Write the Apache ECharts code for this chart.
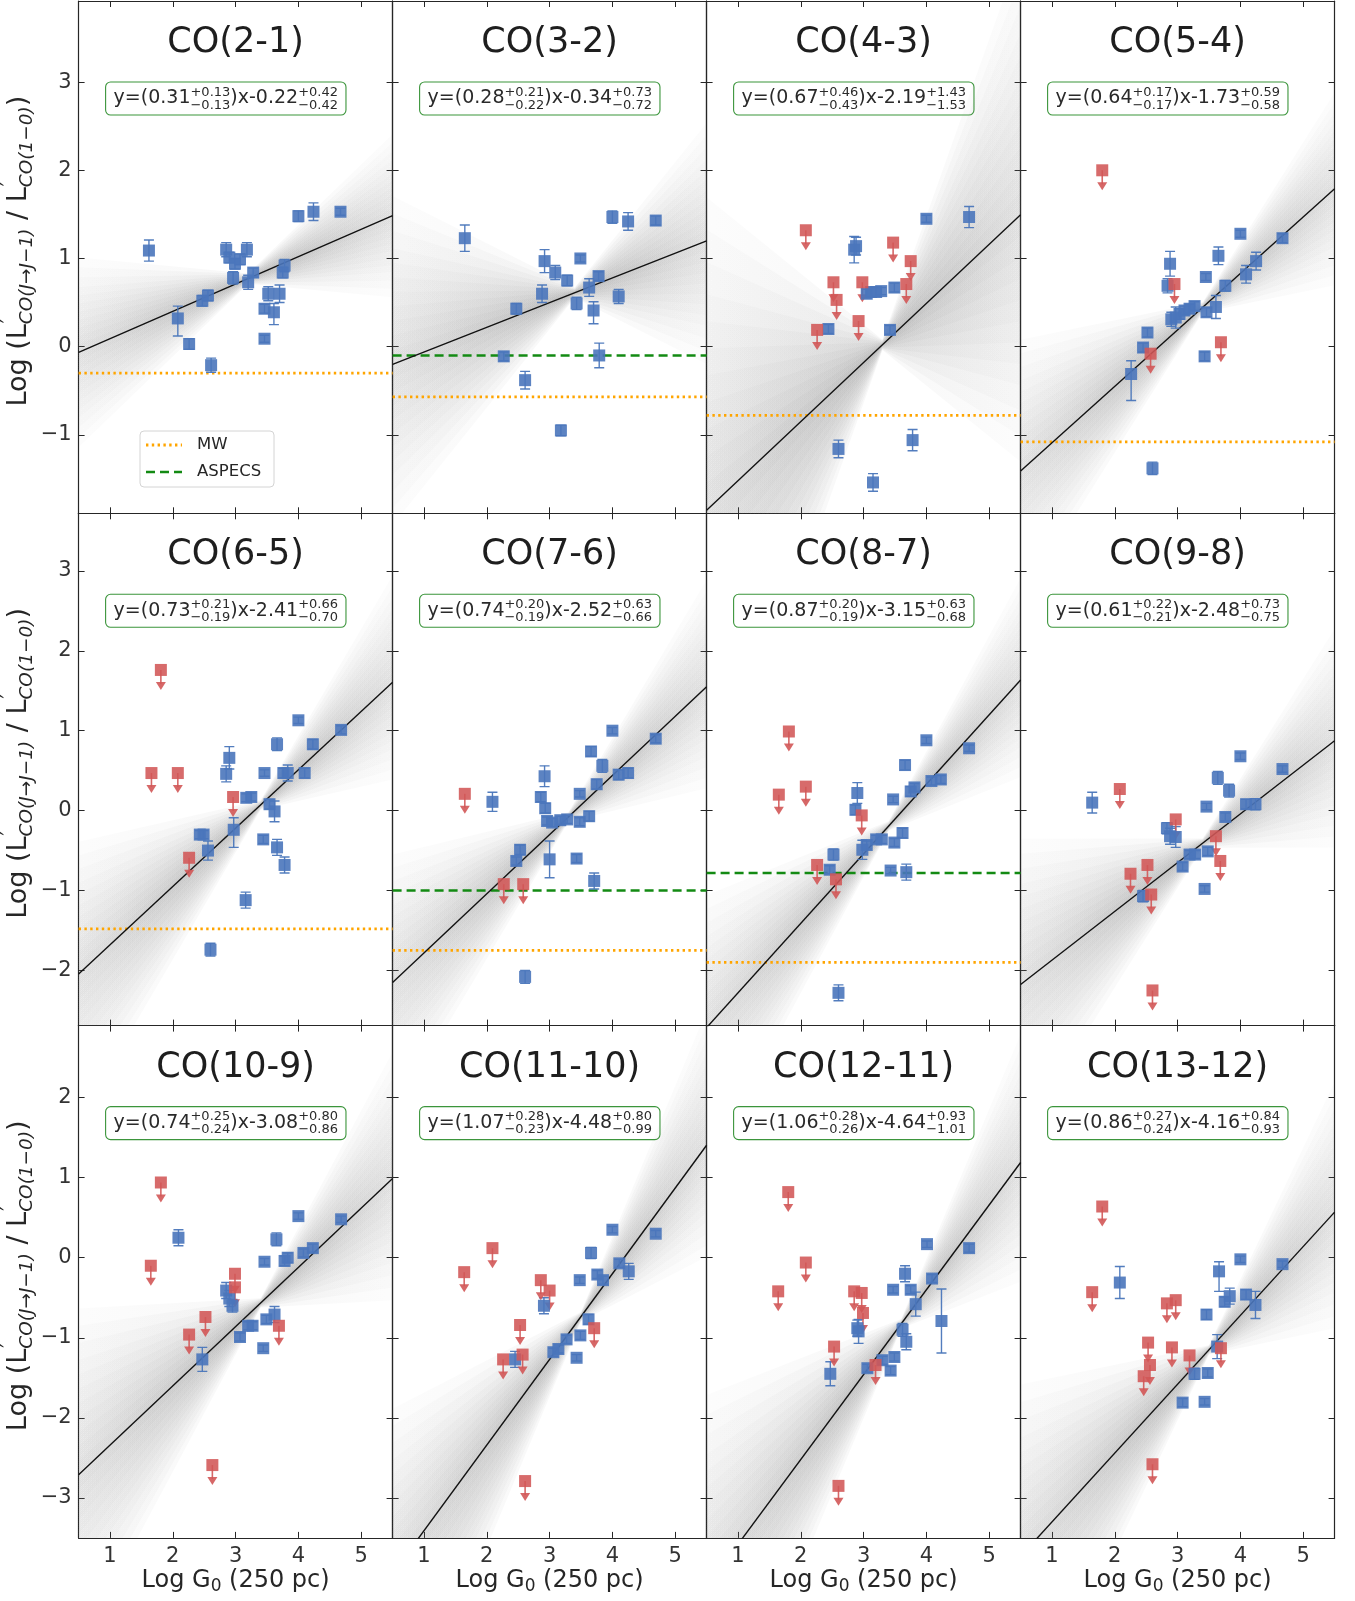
<!DOCTYPE html>
<html>
<head>
<meta charset="utf-8">
<script src="https://cdn.jsdelivr.net/npm/echarts@6/dist/echarts.min.js"></script>
<style>
  html, body { margin: 0; padding: 0; background: #ffffff; }
  #chart { width: 1355px; height: 1601px; }
</style>
</head>
<body>
<div id="chart"></div>
<script>
// ---------------------------------------------------------------------------
// CO line ratios versus the local FUV field G0, one panel per transition.
// ---------------------------------------------------------------------------
const transitions = ['CO(2-1)', 'CO(3-2)', 'CO(4-3)', 'CO(5-4)', 'CO(6-5)', 'CO(7-6)',
                     'CO(8-7)', 'CO(9-8)', 'CO(10-9)', 'CO(11-10)', 'CO(12-11)', 'CO(13-12)'];

// Best-fit relation y = slope * x + intercept with asymmetric uncertainties
const slope          = [0.31, 0.28, 0.67, 0.64, 0.73, 0.74, 0.87, 0.61, 0.74, 1.07, 1.06, 0.86];
const slopeErrUp     = [0.13, 0.21, 0.46, 0.17, 0.21, 0.20, 0.20, 0.22, 0.25, 0.28, 0.28, 0.27];
const slopeErrDn     = [0.13, 0.22, 0.43, 0.17, 0.19, 0.19, 0.19, 0.21, 0.24, 0.23, 0.26, 0.24];
const intercept      = [-0.22, -0.34, -2.19, -1.73, -2.41, -2.52, -3.15, -2.48, -3.08, -4.48, -4.64, -4.16];
const interceptErrUp = [0.42, 0.73, 1.43, 0.59, 0.66, 0.63, 0.63, 0.73, 0.80, 0.80, 0.93, 0.84];
const interceptErrDn = [0.42, 0.72, 1.53, 0.58, 0.70, 0.66, 0.68, 0.75, 0.86, 0.99, 1.01, 0.93];
// Log G0 where the posterior fan of fit lines is narrowest
const fanPivot       = [3.2, 3.4, 3.3, 3.4, 3.4, 3.3, 3.4, 3.4, 3.4, 3.5, 3.6, 3.5];

// Reference ratios (Milky Way and ASPECS); null where not shown
const mwRatio     = [-0.30, -0.57, -0.78, -1.08, -1.48, -1.75, -1.90, null, null, null, null, null];
const aspecsRatio = [null, -0.10, null, null, null, -1.00, -0.78, null, null, null, null, null];

// Detections: [log G0, log ratio, error] or [log G0, log ratio, error below, error above]
const det21 = [[1.62,1.09,0.12],[2.08,0.32,0.20,0.14],[2.26,0.03,0.06],[2.47,0.52,0.06],[2.56,0.58,0.06],
  [2.61,-0.21,0.08],[2.85,1.10,0.08],[2.90,1.01,0.06],[2.96,0.78,0.07],[2.99,0.94,0.06],[3.07,0.99,0.06],
  [3.18,1.10,0.08],[3.20,0.73,0.08],[3.28,0.84,0.05],[3.46,0.43,0.05],[3.46,0.09,0.04],[3.52,0.60,0.08],
  [3.61,0.39,0.14,0.10],[3.70,0.60,0.10],[3.75,0.84,0.06],[3.78,0.92,0.07],[4.00,1.48,0.06],[4.24,1.53,0.10],
  [4.67,1.53,0.04]];
const det32 = [[1.65,1.23,0.15],[2.27,-0.11,0.05],[2.47,0.43,0.06],[2.61,-0.38,0.10],[2.88,0.60,0.10],
  [2.92,0.97,0.13],[3.09,0.84,0.08],[3.18,-0.95,0.06],[3.28,0.75,0.06],[3.43,0.49,0.07],[3.49,1.00,0.04],
  [3.63,0.67,0.10],[3.70,0.41,0.15,0.10],[3.78,0.80,0.05],[3.79,-0.10,0.14],[4.00,1.47,0.07],[4.10,0.57,0.08],
  [4.25,1.42,0.10],[4.69,1.43,0.05]];
const det43 = [[2.44,0.20,0.05],[2.60,-1.16,0.10],[2.85,1.10,0.15],[2.88,1.14,0.10],[3.05,0.60,0.05],
  [3.12,0.62,0.05],[3.15,-1.54,0.10],[3.20,0.62,0.05],[3.28,0.63,0.04],[3.42,0.19,0.05],[3.49,0.67,0.05],
  [3.78,-1.06,0.12],[4.00,1.45,0.04],[4.68,1.47,0.12]];
const det54 = [[2.26,-0.31,0.30,0.15],[2.45,-0.01,0.05],[2.52,0.16,0.05],[2.60,-1.38,0.07],[2.84,0.69,0.08],
  [2.88,0.94,0.14],[2.90,0.31,0.08],[2.97,0.33,0.12],[3.03,0.37,0.06],[3.11,0.41,0.05],[3.19,0.43,0.05],
  [3.27,0.46,0.05],[3.43,-0.11,0.05],[3.45,0.79,0.04],[3.46,0.39,0.05],[3.61,0.45,0.13],[3.65,1.03,0.10],
  [3.76,0.69,0.06],[4.00,1.28,0.04],[4.09,0.82,0.10],[4.25,0.97,0.10],[4.67,1.23,0.05]];
const det65 = [[2.43,-0.30,0.05],[2.49,-0.30,0.05],[2.56,-0.50,0.12],[2.60,-1.74,0.08],[2.85,0.46,0.10],
  [2.90,0.66,0.14],[2.97,-0.24,0.22,0.15],[3.16,-1.12,0.10],[3.17,0.16,0.05],[3.25,0.17,0.05],
  [3.44,-0.36,0.05],[3.46,0.47,0.04],[3.54,0.08,0.06],[3.62,-0.01,0.13],[3.66,0.83,0.08],[3.66,-0.46,0.10],
  [3.76,0.47,0.06],[3.78,-0.68,0.10],[3.83,0.47,0.10],[4.00,1.13,0.04],[4.10,0.47,0.06],[4.23,0.83,0.06],
  [4.68,1.01,0.05]];
const det76 = [[2.09,0.11,0.12],[2.47,-0.63,0.05],[2.53,-0.49,0.06],[2.61,-2.08,0.08],[2.86,0.17,0.06],
  [2.92,0.43,0.13],[2.93,0.03,0.06],[2.96,-0.13,0.05],[3.00,-0.61,0.23],[3.04,-0.15,0.05],[3.17,-0.12,0.05],
  [3.28,-0.11,0.05],[3.43,-0.60,0.05],[3.48,0.21,0.04],[3.48,-0.14,0.05],[3.63,-0.07,0.06],[3.66,0.74,0.06],
  [3.71,-0.88,0.10],[3.75,0.33,0.06],[3.84,0.56,0.08],[4.00,1.00,0.04],[4.10,0.45,0.06],[4.25,0.47,0.06],
  [4.69,0.90,0.05]];
const det87 = [[2.46,-0.74,0.05],[2.52,-0.55,0.07],[2.60,-2.28,0.10],[2.87,0.01,0.06],[2.90,0.22,0.13],
  [2.98,-0.49,0.12],[3.05,-0.43,0.05],[3.20,-0.36,0.05],[3.29,-0.36,0.05],[3.43,-0.75,0.04],[3.47,0.14,0.04],
  [3.49,-0.40,0.05],[3.62,-0.28,0.06],[3.66,0.57,0.06],[3.68,-0.77,0.10],[3.75,0.24,0.06],[3.81,0.29,0.05],
  [4.00,0.88,0.04],[4.08,0.37,0.05],[4.23,0.39,0.05],[4.68,0.78,0.04]];
const det98 = [[1.64,0.10,0.13],[2.45,-1.07,0.07],[2.83,-0.22,0.07],[2.88,-0.32,0.10],[2.97,-0.33,0.13],
  [3.08,-0.70,0.05],[3.19,-0.55,0.05],[3.28,-0.55,0.05],[3.43,-0.98,0.04],[3.46,0.05,0.04],[3.48,-0.51,0.05],
  [3.64,0.41,0.08],[3.76,-0.08,0.05],[3.82,0.25,0.08],[4.00,0.68,0.04],[4.09,0.08,0.06],[4.24,0.08,0.07],
  [4.67,0.52,0.04]];
const det109 = [[2.09,0.25,0.10],[2.47,-1.27,0.15],[2.85,-0.41,0.10],[2.90,-0.51,0.10],[2.95,-0.60,0.08],
  [3.07,-0.99,0.05],[3.20,-0.85,0.05],[3.27,-0.85,0.05],[3.44,-1.13,0.04],[3.46,-0.05,0.04],[3.49,-0.77,0.05],
  [3.62,-0.71,0.10],[3.65,0.23,0.08],[3.78,-0.04,0.06],[3.83,0.00,0.06],[4.00,0.52,0.04],[4.08,0.06,0.05],
  [4.23,0.12,0.05],[4.68,0.48,0.04]];
const det1110 = [[2.45,-1.27,0.10],[2.91,-0.60,0.10],[3.06,-1.18,0.05],[3.14,-1.14,0.05],[3.27,-1.02,0.05],
  [3.43,-1.25,0.04],[3.48,-0.28,0.04],[3.49,-0.97,0.05],[3.62,-0.77,0.06],[3.66,0.06,0.07],[3.76,-0.21,0.05],
  [3.85,-0.28,0.05],[4.00,0.35,0.04],[4.11,-0.07,0.05],[4.26,-0.17,0.10],[4.69,0.30,0.04]];
const det1211 = [[2.47,-1.45,0.15],[2.90,-0.88,0.10],[2.92,-0.92,0.15],[3.06,-1.38,0.05],[3.30,-1.28,0.05],
  [3.43,-1.41,0.05],[3.47,-0.40,0.04],[3.49,-1.24,0.05],[3.62,-0.90,0.08],[3.66,-0.20,0.10],[3.68,-1.05,0.10],
  [3.75,-0.40,0.05],[3.83,-0.58,0.15],[4.01,0.17,0.04],[4.09,-0.26,0.05],[4.24,-0.79,0.40],[4.68,0.12,0.05]];
const det1312 = [[2.08,-0.31,0.20],[3.08,-1.81,0.05],[3.27,-1.45,0.07],[3.43,-1.80,0.04],[3.46,-0.71,0.06],
  [3.48,-1.44,0.05],[3.63,-1.11,0.15],[3.66,-0.17,0.25,0.12],[3.75,-0.55,0.06],[3.83,-0.48,0.10],
  [4.00,-0.02,0.04],[4.09,-0.46,0.06],[4.24,-0.59,0.17],[4.67,-0.08,0.04]];

// Upper limits: [log G0, log ratio]
const lim21 = [];
const lim32 = [];
const lim43 = [[2.08,1.32],[2.26,0.19],[2.52,0.73],[2.57,0.53],[2.92,0.29],[2.98,0.73],[3.47,1.18],[3.68,0.71],[3.75,0.97]];
const lim54 = [[1.80,2.00],[2.57,-0.08],[2.95,0.71],[3.69,0.05]];
const lim65 = [[1.81,1.76],[1.66,0.47],[2.08,0.47],[2.26,-0.59],[2.96,0.17]];
const lim76 = [[1.65,0.21],[2.27,-0.92],[2.58,-0.92]];
const lim87 = [[1.81,0.99],[1.65,0.20],[2.08,0.30],[2.26,-0.68],[2.56,-0.86],[2.97,-0.06]];
const lim98 = [[2.08,0.27],[2.25,-0.79],[2.52,-0.68],[2.58,-1.05],[2.97,-0.11],[3.61,-0.32],[3.68,-0.63],[2.60,-2.25]];
const lim109 = [[1.81,0.94],[1.65,-0.10],[2.26,-0.96],[2.52,-0.74],[2.63,-2.59],[2.99,-0.20],[2.99,-0.37],[3.69,-0.85]];
const lim1110 = [[1.64,-0.18],[2.09,0.12],[2.26,-1.27],[2.53,-0.84],[2.57,-1.21],[2.61,-2.79],[2.86,-0.28],[3.00,-0.41],[3.71,-0.88]];
const lim1211 = [[1.80,0.82],[2.08,-0.06],[1.64,-0.42],[2.53,-1.11],[2.85,-0.42],[2.97,-0.44],[2.99,-0.69],[3.19,-1.34],[2.60,-2.85]];
const lim1312 = [[1.80,0.64],[1.64,-0.43],[2.53,-1.06],[2.56,-1.34],[2.46,-1.48],[2.83,-0.57],[2.97,-0.53],[2.91,-1.12],[3.19,-1.22],[3.69,-1.13],[2.60,-2.58]];

const detections  = [det21, det32, det43, det54, det65, det76, det87, det98, det109, det1110, det1211, det1312];
const upperLimits = [lim21, lim32, lim43, lim54, lim65, lim76, lim87, lim98, lim109, lim1110, lim1211, lim1312];

// Axis ranges and ticks
const xMin = 0.5, xMax = 5.5;
const xTickValues = [1, 2, 3, 4, 5];
const rowYMin = [-1.89, -2.69, -3.50];
const rowYMax = [3.92, 3.72, 2.90];
const rowYTicks = [[-1, 0, 1, 2, 3], [-2, -1, 0, 1, 2, 3], [-3, -2, -1, 0, 1, 2]];

// Spread levels (in units of the slope uncertainty) used to shade the fit fan
const fanLevels = [[0.25], [0.5], [0.75], [1.0], [1.25], [1.5], [1.75], [2.0], [2.3], [2.6], [2.9]];

// ---------------------------------------------------------------------------
const FONT = 'DejaVu Sans';
const BLUE = '#4a76bb';
const RED = '#d25656';
const INK = '#262626';
const panelLeft0 = 78.6, panelTop0 = 1, panelW = 314, panelH = 512.3;

const measureCtx = document.createElement('canvas').getContext('2d');
function textWidth(t, size, italic) {
  measureCtx.font = (italic ? 'italic ' : '') + size + 'px "' + FONT + '"';
  return measureCtx.measureText(t).width;
}
function textEl(t, x, y, size, italic, color) {
  return {
    type: 'text', x: x, y: y, silent: true,
    style: {
      text: t, fontSize: size, fontFamily: FONT, fontStyle: italic ? 'italic' : 'normal',
      fill: color, align: 'left', verticalAlign: 'middle', textAlign: 'left', textVerticalAlign: 'middle'
    }
  };
}
// Lay out a line of mixed-size text (with stacked super/subscripts) from x = 0
function richLine(segs, color) {
  const children = [];
  let x = 0;
  segs.forEach(function (s) {
    if (s.t !== undefined) {
      children.push(textEl(s.t, x, s.dy || 0, s.size, s.italic, color));
      x += textWidth(s.t, s.size, s.italic);
    } else {
      let w = 0;
      [s.sup, s.sub].forEach(function (p) {
        if (!p) return;
        children.push(textEl(p.t, x + (p.dx || 0), p.dy, p.size, p.italic, color));
        w = Math.max(w, textWidth(p.t, p.size, p.italic) + (p.dx || 0));
      });
      x += w;
    }
  });
  return { children: children, width: x };
}
function shiftChildren(children, dx) {
  children.forEach(function (c) { c.x += dx; });
  return children;
}
function fmt(v) { return v.toFixed(2); }

function normalizeDet(d) {
  return d.map(function (p) { return p.length === 3 ? [p[0], p[1], p[2], p[2]] : p.slice(); });
}

// Fan of posterior fit lines: nested wedges that fade away from the pivot
function fanRenderer(i) {
  return function (params, api) {
    const k = api.value(0);
    const m = slope[i], b = intercept[i], x0 = fanPivot[i];
    const waist = 0.02;
    function upper(x) {
      const dx = x - x0;
      return m * x + b + k * ((dx >= 0 ? slopeErrUp[i] : slopeErrDn[i]) * Math.abs(dx) + waist);
    }
    function lower(x) {
      const dx = x - x0;
      return m * x + b - k * ((dx >= 0 ? slopeErrDn[i] : slopeErrUp[i]) * Math.abs(dx) + waist);
    }
    const alpha = 0.05;
    const edgeAlpha = 0.018;
    function wedge(xa) {
      const pts = [[xa, upper(xa)], [x0, upper(x0)], [x0, lower(x0)], [xa, lower(xa)]].map(function (p) { return api.coord(p); });
      const pa = pts[0][0], pb = pts[1][0];
      const fill = new echarts.graphic.LinearGradient(pb, 0, pa, 0, [
        { offset: 0, color: 'rgba(110,110,110,' + alpha + ')' },
        { offset: 1, color: 'rgba(110,110,110,' + edgeAlpha + ')' }
      ], true);
      return { type: 'polygon', shape: { points: pts }, style: { fill: fill } };
    }
    return { type: 'group', children: [wedge(xMin), wedge(xMax)] };
  };
}
function errorBarItem(params, api) {
  const x = api.value(0), y = api.value(1), dn = api.value(2), up = api.value(3);
  const a = api.coord([x, y + up]), b = api.coord([x, y - dn]);
  const hw = 5;
  const st = function () { return { stroke: BLUE, lineWidth: 1.4, opacity: 0.95 }; };
  return {
    type: 'group', children: [
      { type: 'line', shape: { x1: a[0], y1: a[1], x2: b[0], y2: b[1] }, style: st() },
      { type: 'line', shape: { x1: a[0] - hw, y1: a[1], x2: a[0] + hw, y2: a[1] }, style: st() },
      { type: 'line', shape: { x1: b[0] - hw, y1: b[1], x2: b[0] + hw, y2: b[1] }, style: st() }
    ]
  };
}
function limitArrowItem(params, api) {
  const p = api.coord([api.value(0), api.value(1)]);
  const cx = p[0], cy = p[1];
  return {
    type: 'group', children: [
      { type: 'line', shape: { x1: cx, y1: cy, x2: cx, y2: cy + 14 }, style: { stroke: RED, lineWidth: 1.6, opacity: 0.9 } },
      { type: 'polygon', shape: { points: [[cx - 5, cy + 12], [cx + 5, cy + 12], [cx, cy + 20]] }, style: { fill: RED, opacity: 0.9 } }
    ]
  };
}

const grids = [], xAxes = [], yAxes = [], series = [], graphics = [];

for (let i = 0; i < 12; i++) {
  const r = Math.floor(i / 4), c = i % 4;
  const left = panelLeft0 + c * panelW, top = panelTop0 + r * panelH;
  grids.push({ left: left, top: top, width: panelW, height: panelH, show: false });

  const axisLine = { show: true, onZero: false, lineStyle: { color: INK, width: 1.2 } };
  const tick = function (vals) { return { show: true, inside: true, length: 6, customValues: vals, lineStyle: { color: INK, width: 1 } }; };
  const base = { type: 'value', gridIndex: i, splitLine: { show: false }, axisLine: axisLine };

  xAxes.push(Object.assign({}, base, {
    position: 'bottom', min: xMin, max: xMax, axisTick: tick(xTickValues),
    axisLabel: { show: r === 2, customValues: xTickValues, fontFamily: FONT, fontSize: 21, color: '#333', margin: 8 }
  }));
  xAxes.push(Object.assign({}, base, {
    position: 'top', min: xMin, max: xMax, axisTick: tick(xTickValues), axisLabel: { show: false }
  }));
  yAxes.push(Object.assign({}, base, {
    position: 'left', min: rowYMin[r], max: rowYMax[r], axisTick: tick(rowYTicks[r]),
    axisLabel: {
      show: c === 0, customValues: rowYTicks[r], fontFamily: FONT, fontSize: 21, color: '#333', margin: 7,
      formatter: function (v) { return String(v).replace('-', '\u2212'); }
    }
  }));
  yAxes.push(Object.assign({}, base, {
    position: 'right', min: rowYMin[r], max: rowYMax[r], axisTick: tick(rowYTicks[r]), axisLabel: { show: false }
  }));

  const xi = 2 * i, yi = 2 * i;

  // posterior fan of fit lines
  series.push({
    type: 'custom', coordinateSystem: 'cartesian2d', xAxisIndex: xi, yAxisIndex: yi,
    data: fanLevels, renderItem: fanRenderer(i), clip: true, silent: true, z: 1
  });
  // reference ratios
  if (mwRatio[i] !== null) {
    series.push({
      type: 'line', name: 'MW', xAxisIndex: xi, yAxisIndex: yi, symbol: 'none', silent: true, z: 2,
      data: [[xMin, mwRatio[i]], [xMax, mwRatio[i]]],
      lineStyle: { color: '#ffa500', width: 2.8, type: [2.4, 3.4] }
    });
  }
  if (aspecsRatio[i] !== null) {
    series.push({
      type: 'line', name: 'ASPECS', xAxisIndex: xi, yAxisIndex: yi, symbol: 'none', silent: true, z: 2,
      data: [[xMin, aspecsRatio[i]], [xMax, aspecsRatio[i]]],
      lineStyle: { color: '#138a13', width: 2.6, type: [9, 5] }
    });
  }
  // best-fit line
  series.push({
    type: 'line', xAxisIndex: xi, yAxisIndex: yi, symbol: 'none', silent: true, z: 3,
    data: [[xMin, slope[i] * xMin + intercept[i]], [xMax, slope[i] * xMax + intercept[i]]],
    lineStyle: { color: '#111', width: 1.4 }
  });
  // detections with error bars
  const det = normalizeDet(detections[i]);
  series.push({
    type: 'custom', coordinateSystem: 'cartesian2d', xAxisIndex: xi, yAxisIndex: yi,
    data: det, renderItem: errorBarItem, clip: true, silent: true, z: 4
  });
  series.push({
    type: 'scatter', xAxisIndex: xi, yAxisIndex: yi, symbol: 'rect', symbolSize: 12, z: 5,
    data: det.map(function (p) { return [p[0], p[1]]; }),
    itemStyle: { color: BLUE, opacity: 0.9 }
  });
  // upper limits
  if (upperLimits[i].length) {
    series.push({
      type: 'custom', coordinateSystem: 'cartesian2d', xAxisIndex: xi, yAxisIndex: yi,
      data: upperLimits[i], renderItem: limitArrowItem, clip: true, silent: true, z: 4
    });
    series.push({
      type: 'scatter', xAxisIndex: xi, yAxisIndex: yi, symbol: 'rect', symbolSize: 12, z: 5,
      data: upperLimits[i], itemStyle: { color: RED, opacity: 0.88 }
    });
  }

  // panel title
  graphics.push({
    type: 'text', x: left + panelW / 2, y: top + 42, silent: true,
    style: {
      text: transitions[i], fontSize: 35, fontFamily: FONT, fill: '#1e1e1e',
      align: 'center', verticalAlign: 'middle', textAlign: 'center', textVerticalAlign: 'middle'
    }
  });

  // fit equation in a green box
  const eq = richLine([
    { t: 'y=(' + fmt(slope[i]), size: 19 },
    { sup: { t: '+' + fmt(slopeErrUp[i]), size: 13, dy: -6 }, sub: { t: '\u2212' + fmt(slopeErrDn[i]), size: 13, dy: 7 } },
    { t: ')x' + (intercept[i] < 0 ? '-' : '+') + fmt(Math.abs(intercept[i])), size: 19 },
    { sup: { t: '+' + fmt(interceptErrUp[i]), size: 13, dy: -6 }, sub: { t: '\u2212' + fmt(interceptErrDn[i]), size: 13, dy: 7 } }
  ], '#2a2a2a');
  const pad = 8;
  graphics.push({
    type: 'group', x: left + 27, y: top + 97.5, silent: true,
    children: [
      { type: 'rect', shape: { x: 0, y: -16.5, width: eq.width + 2 * pad, height: 33, r: 5 },
        style: { fill: '#ffffff', stroke: '#3b953b', lineWidth: 1.1 } }
    ].concat(shiftChildren(eq.children, pad))
  });

  // y-axis title for the left column
  if (c === 0) {
    const yl = richLine([
      { t: 'Log (L', size: 27 },
      { sup: { t: '\u2032', size: 19, dy: -10, dx: 1 }, sub: { t: 'CO(J\u2192J\u22121)', size: 18.5, dy: 8, italic: true } },
      { t: ' / L', size: 27 },
      { sup: { t: '\u2032', size: 19, dy: -10, dx: 1 }, sub: { t: 'CO(1\u22120)', size: 18.5, dy: 8, italic: true } },
      { t: ')', size: 27 }
    ], '#262626');
    graphics.push({
      type: 'group', x: 19, y: top + panelH / 2 - 6, rotation: Math.PI / 2, silent: true,
      children: shiftChildren(yl.children, -yl.width / 2)
    });
  }
  // x-axis title for the bottom row
  if (r === 2) {
    const xl = richLine([
      { t: 'Log G', size: 24 },
      { sub: { t: '0', size: 17, dy: 6 } },
      { t: ' (250 pc)', size: 24 }
    ], '#262626');
    graphics.push({
      type: 'group', x: left + panelW / 2, y: 1581, silent: true,
      children: shiftChildren(xl.children, -xl.width / 2)
    });
  }
}

// legend (first panel)
graphics.push({
  type: 'group', x: 140, y: 431, silent: true,
  children: [
    { type: 'rect', shape: { x: 0, y: 0, width: 134, height: 56, r: 4 },
      style: { fill: 'rgba(255,255,255,0.85)', stroke: '#d4d4d4', lineWidth: 1 } },
    { type: 'line', shape: { x1: 6, y1: 14, x2: 42, y2: 14 }, style: { stroke: '#ffa500', lineWidth: 2.8, lineDash: [2.4, 3.4] } },
    { type: 'line', shape: { x1: 6, y1: 41, x2: 42, y2: 41 }, style: { stroke: '#138a13', lineWidth: 2.6, lineDash: [9, 5] } },
    textEl('MW', 57, 14, 16.5, false, '#262626'),
    textEl('ASPECS', 57, 41, 16.5, false, '#262626')
  ]
});

const chart = echarts.init(document.getElementById('chart'), null, { renderer: 'canvas', width: 1355, height: 1601 });
chart.setOption({
  animation: false,
  backgroundColor: '#ffffff',
  grid: grids,
  xAxis: xAxes,
  yAxis: yAxes,
  series: series,
  graphic: { elements: graphics }
});
</script>
</body>
</html>
